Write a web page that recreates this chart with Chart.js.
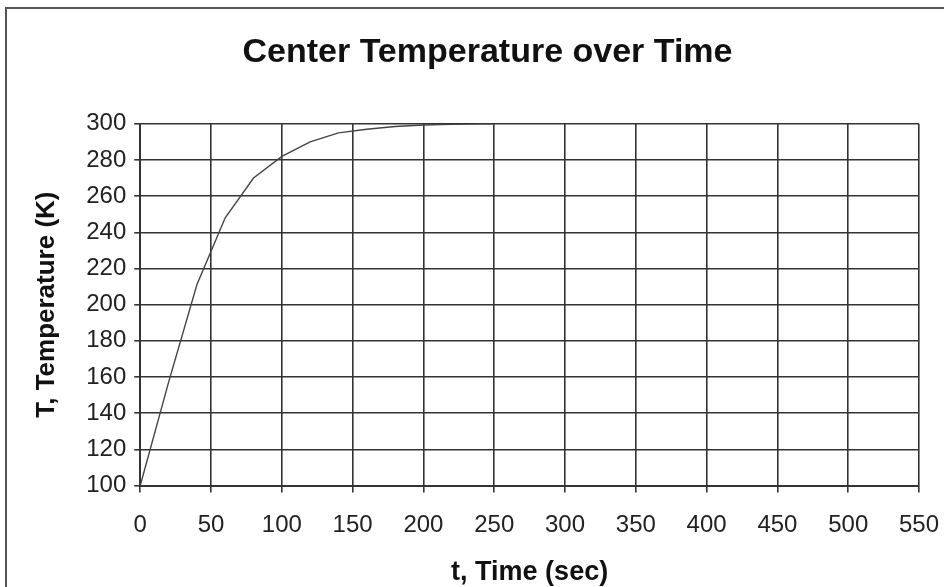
<!DOCTYPE html>
<html>
<head>
<meta charset="utf-8">
<script src="https://cdn.jsdelivr.net/npm/chart.js@4.4.0/dist/chart.umd.min.js"></script>
<style>
  html, body { margin: 0; padding: 0; background: #fff; }
  #wrap { position: relative; width: 944px; height: 587px; overflow: hidden; }
  #frame { position: absolute; left: 5px; top: 7px; width: 960px; height: 600px; border: 2px solid #555; box-sizing: border-box; }
  canvas { position: absolute; left: 0; top: 0; }
</style>
</head>
<body>
<div id="wrap">
  <div id="frame"></div>
  <canvas id="chart" width="944" height="587"></canvas>
</div>
<script>
// time (sec) and center temperature (K)
const timeSec = [0, 20, 40, 60, 80, 100, 120, 140, 160, 180, 200, 220, 240, 250];
const tempK = [100, 157, 211, 248, 270, 282, 290, 295, 297, 298.5, 299.3, 299.7, 300, 300];

const xTicks = [0, 50, 100, 150, 200, 250, 300, 350, 400, 450, 500, 550];
const yTicks = [100, 120, 140, 160, 180, 200, 220, 240, 260, 280, 300];

const font = "'Liberation Sans', Arial, sans-serif";

const ctx = document.getElementById("chart").getContext("2d");

new Chart(ctx, {
  type: "scatter",
  data: {
    datasets: [
      {
        label: "Center Temperature",
        data: timeSec.map((t, i) => ({ x: t, y: tempK[i] })),
        showLine: true,
        borderColor: "#444",
        borderWidth: 1.4,
        pointRadius: 0,
        tension: 0,
      },
    ],
  },
  options: {
    responsive: false,
    animation: false,
    layout: { padding: { left: 31, right: 0, top: 14, bottom: 0 } },
    plugins: {
      legend: { display: false },
      tooltip: { enabled: false },
      title: {
        display: true,
        text: "Center Temperature over Time",
        color: "#111",
        font: { family: font, size: 34, weight: "bold" },
        padding: { top: 18, bottom: 51 },
      },
    },
    scales: {
      x: {
        type: "linear",
        min: 0,
        max: 550,
        afterBuildTicks: (axis) => { axis.ticks = xTicks.map((v) => ({ value: v })); },
        // last label "550" may hang past the plot edge like in the original
        afterFit: (axis) => { axis.paddingRight = 25; },
        grid: { color: "#333", lineWidth: 1.6, tickLength: 7, drawTicks: true },
        border: { color: "#333", width: 2 },
        ticks: { color: "#222", font: { family: font, size: 24 }, padding: 18, maxRotation: 0 },
        title: {
          display: true,
          text: "t, Time (sec)",
          color: "#111",
          font: { family: font, size: 27, weight: "bold", lineHeight: 1.1 },
          padding: { top: 0, bottom: 0 },
        },
      },
      y: {
        type: "linear",
        min: 100,
        max: 300,
        afterBuildTicks: (axis) => { axis.ticks = yTicks.map((v) => ({ value: v })); },
        grid: { color: "#333", lineWidth: 1.6, tickLength: 6, drawTicks: true },
        border: { color: "#333", width: 2 },
        ticks: { color: "#222", font: { family: font, size: 24 }, padding: 8 },
        title: {
          display: true,
          text: "T, Temperature (K)",
          color: "#111",
          font: { family: font, size: 26, weight: "bold" },
          padding: { top: 0, bottom: 16 },
        },
      },
    },
  },
});
</script>
</body>
</html>
